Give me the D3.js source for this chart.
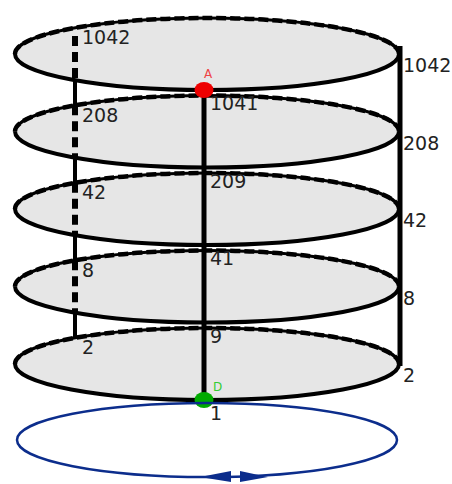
<!DOCTYPE html>
<html>
<head>
<meta charset="utf-8">
<script src="https://cdn.jsdelivr.net/npm/d3@7"></script>
<style>
  body { margin: 0; background: #fff; }
  text { font-family: "DejaVu Sans", Verdana, sans-serif; }
</style>
</head>
<body>
<svg></svg>
<script>
// levels of the cylinder, top to bottom
let levels = [0, 1, 2, 3, 4];
let leftLabels = ["1042", "208", "42", "8", "2"];
let centerLabels = ["1041", "209", "41", "9", "1"];
let rightLabels = ["1042", "208", "42", "8", "2"];

let width = 452, height = 484;
let svg = d3.select("svg").attr("width", width).attr("height", height);

let cx = 207, rx = 192, ry = 36;
let y = d3.scaleLinear().domain([0, 4]).range([54, 364]);

// half ellipse paths
const back = (c) => `M${cx - rx},${c} A${rx},${ry} 0 0 1 ${cx + rx},${c}`;
const front = (c) => `M${cx - rx},${c} A${rx},${ry} 0 0 0 ${cx + rx},${c}`;

// disks, bottom one first so upper ones cover it
let disks = svg.append("g").selectAll("g")
  .data(levels.slice().reverse())
  .enter().append("g");

disks.append("ellipse")
  .attr("cx", cx).attr("cy", d => y(d))
  .attr("rx", rx).attr("ry", ry)
  .attr("fill", "#e6e6e6");
disks.append("path").attr("d", d => back(y(d)))
  .attr("fill", "none").attr("stroke", "#000").attr("stroke-width", 3.2);
disks.append("path").attr("d", d => back(y(d)))
  .attr("fill", "none").attr("stroke", "#000").attr("stroke-width", 4.5)
  .attr("stroke-dasharray", "10,4");
disks.append("path").attr("d", d => front(y(d)))
  .attr("fill", "none").attr("stroke", "#000").attr("stroke-width", 4);

// left line: dashed where hidden by a disk, solid in between
let lx = 75;
let k = Math.sqrt(1 - Math.pow((lx - cx) / rx, 2));
let yStart = 36, yEnd = y(4) - ry * k;
levels.forEach(i => {
  let b = Math.max(yStart, y(i) - ry * k), f = y(i) + ry * k;
  if (i < 4) {
    svg.append("line").attr("x1", lx).attr("x2", lx).attr("y1", b).attr("y2", f)
      .attr("stroke", "#000").attr("stroke-width", 6).attr("stroke-dasharray", "10,6");
    svg.append("line").attr("x1", lx).attr("x2", lx).attr("y1", f).attr("y2", y(i + 1) - ry * k)
      .attr("stroke", "#000").attr("stroke-width", 4);
  }
});

// right line
svg.append("line").attr("x1", 400).attr("x2", 400)
  .attr("y1", y(0) - 8).attr("y2", y(4) + 2)
  .attr("stroke", "#000").attr("stroke-width", 5);

// center line
svg.append("line").attr("x1", 204).attr("x2", 204)
  .attr("y1", y(0) + ry).attr("y2", y(4) + ry)
  .attr("stroke", "#000").attr("stroke-width", 5);

// labels
const lbl = (g, xPos, yPos, arr) => g.append("g").selectAll("text").data(levels).enter().append("text")
  .attr("x", xPos).attr("y", yPos).attr("font-size", 19).attr("fill", "#222")
  .text(d => arr[d]);
lbl(svg, 82, d => y(d) - 10, leftLabels);
lbl(svg, 210, d => y(d) + ry + 20, centerLabels);
lbl(svg, 403, d => y(d) + 18, rightLabels);

// points A and D
svg.append("ellipse").attr("cx", 204).attr("cy", y(0) + ry).attr("rx", 9.5).attr("ry", 8).attr("fill", "#e00");
svg.append("text").attr("x", 204).attr("y", 78).attr("font-size", 12).attr("fill", "#e44").text("A");
svg.append("ellipse").attr("cx", 204).attr("cy", y(4) + ry).attr("rx", 9.5).attr("ry", 8).attr("fill", "#0a0");
svg.append("text").attr("x", 213).attr("y", 391).attr("font-size", 12).attr("fill", "#3c3").text("D");

// blue rotation ellipse with arrows
let bcy = 440, brx = 190, bry = 37;
svg.append("ellipse").attr("cx", cx).attr("cy", bcy).attr("rx", brx).attr("ry", bry)
  .attr("fill", "none").attr("stroke", "#0c2d8c").attr("stroke-width", 2.5);
let by = bcy + bry;
svg.append("path").attr("d", `M200,${by} L231,${by - 6} L231,${by + 5} Z`).attr("fill", "#0c2d8c");
svg.append("path").attr("d", `M268,${by} L240,${by - 6} L240,${by + 5} Z`).attr("fill", "#0c2d8c");
</script>
</body>
</html>
